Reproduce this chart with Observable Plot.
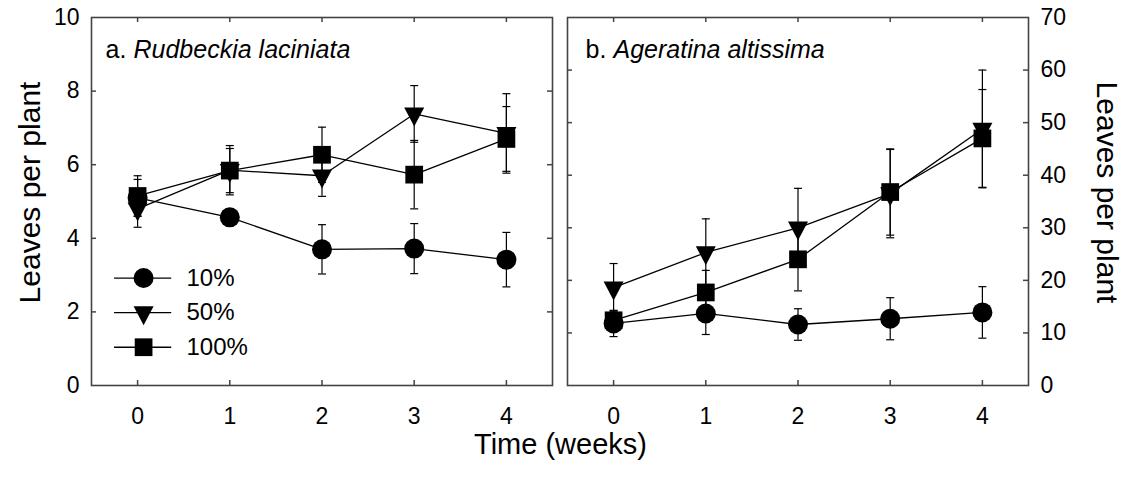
<!DOCTYPE html>
<html>
<head>
<meta charset="utf-8">
<script src="https://cdn.jsdelivr.net/npm/d3@7"></script>
<script src="https://cdn.jsdelivr.net/npm/@observablehq/plot@0.6"></script>
<style>
  body { margin: 0; background: #fff; }
  #chart { position: relative; width: 1126px; height: 478px; font-family: "Liberation Sans", Arial, sans-serif; }
  #chart svg { position: absolute; top: 0; }
</style>
</head>
<body>
<div id="chart"></div>
<script>
// Weeks of sampling and shade treatments
const weeks = [0, 1, 2, 3, 4];
const treatments = ["10%", "50%", "100%"];

// a. Rudbeckia laciniata — mean leaves per plant and error
const rud10 = [5.1, 4.57, 3.7, 3.72, 3.42];
const rud10Err = [0.5, 0.22, 0.67, 0.68, 0.74];
const rud50 = [4.8, 5.85, 5.7, 7.38, 6.85];
const rud50Err = [0.5, 0.67, 0.56, 0.77, 1.08];
const rud100 = [5.15, 5.84, 6.27, 5.73, 6.7];
const rud100Err = [0.55, 0.6, 0.75, 0.93, 0.88];

// b. Ageratina altissima — mean leaves per plant and error
const age10 = [11.8, 13.7, 11.6, 12.7, 13.9];
const age10Err = [2.5, 4.0, 3.0, 4.0, 4.9];
const age50 = [18.6, 25.3, 30.0, 36.5, 48.8];
const age50Err = [4.6, 6.4, 7.5, 8.4, 11.2];
const age100 = [12.4, 17.7, 24.0, 36.8, 47.0];
const age100Err = [1.8, 4.2, 6.0, 8.2, 9.3];

// Axis tick values
const leftTicks = [0, 2, 4, 6, 8, 10];
const rightTicks = [0, 10, 20, 30, 40, 50, 60, 70];

const FONT = '"Liberation Sans", Arial, sans-serif';
const FRAME_W = 461, FRAME_H = 368, TICK = 5;
const INK = "#000", FRAME_INK = "#444";

function buildRows(means, errs) {
  return treatments.flatMap((t, i) =>
    weeks.map((w, j) => ({trt: t, week: w, v: means[i][j], lo: means[i][j] - errs[i][j], hi: means[i][j] + errs[i][j]}))
  );
}

// Marker shapes
const capSymbol = {draw(c) { c.moveTo(-4, 0); c.lineTo(4, 0); }};
const downTriangle = {draw(c) { c.moveTo(-10, -6.3); c.lineTo(10, -6.3); c.lineTo(0, 12.7); c.closePath(); }};
const markerStyle = {
  "10%": {symbol: "circle", r: 10},
  "50%": {symbol: downTriangle},
  "100%": {symbol: "square", r: 10}
};
const seriesDots = (data, opts) =>
  treatments.map(t => Plot.dot(data.filter(d => d.trt === t), {...opts, ...markerStyle[t], fill: INK, stroke: "none"}));

// Inward ticks on all four sides of a panel
function innerTicks(yValues) {
  const inner = yValues.slice(1, -1);
  const tickStyle = {stroke: FRAME_INK, strokeWidth: 1.5};
  return [
    Plot.tickY(inner, {y: d => d, insetRight: FRAME_W - TICK, ...tickStyle}),
    Plot.tickY(inner, {y: d => d, insetLeft: FRAME_W - TICK, ...tickStyle}),
    Plot.tickX(weeks, {x: d => d, insetTop: FRAME_H - TICK, ...tickStyle}),
    Plot.tickX(weeks, {x: d => d, insetBottom: FRAME_H - TICK, ...tickStyle})
  ];
}

function panel({rows, yDomain, yTicks, side, letter, species, width, marginLeft, marginRight, extra = []}) {
  return Plot.plot({
    width, height: 478,
    marginLeft, marginRight, marginTop: 17, marginBottom: 93,
    style: {fontFamily: FONT, fontSize: "23px", color: INK, background: "transparent", overflow: "visible"},
    x: {domain: [-0.5, 4.5]},
    y: {domain: yDomain},
    marks: [
      Plot.axisX(weeks, {tickSize: 0, tickPadding: 22, fontSize: 23, label: null}),
      Plot.axisY(yTicks, {anchor: side, tickSize: 0, tickPadding: 12, fontSize: 23, label: null}),
      ...innerTicks(yTicks),
      Plot.frame({stroke: FRAME_INK, strokeWidth: 1.6}),
      // error bars
      Plot.ruleX(rows, {x: "week", y1: "lo", y2: "hi", stroke: INK, strokeWidth: 1.2}),
      Plot.dot(rows, {x: "week", y: "lo", symbol: capSymbol, stroke: INK, strokeWidth: 1.2, fill: "none"}),
      Plot.dot(rows, {x: "week", y: "hi", symbol: capSymbol, stroke: INK, strokeWidth: 1.2, fill: "none"}),
      // treatment lines and markers
      Plot.line(rows, {x: "week", y: "v", z: "trt", stroke: INK, strokeWidth: 1.3}),
      ...seriesDots(rows, {x: "week", y: "v"}),
      // panel title
      Plot.text([letter], {frameAnchor: "top-left", dx: side === "left" ? 14 : 18, dy: 23, lineAnchor: "top", textAnchor: "start", fontSize: 25}),
      Plot.text([species], {frameAnchor: "top-left", dx: side === "left" ? 42 : 46, dy: 23, lineAnchor: "top", textAnchor: "start", fontSize: 25, fontStyle: "italic"}),
      // y axis title
      Plot.text(["Leaves per plant"], {
        frameAnchor: side, dx: side === "left" ? -61 : 78, dy: -9,
        rotate: side === "left" ? -90 : 90, fontSize: 30, textAnchor: "middle", lineAnchor: "middle"
      }),
      ...extra
    ]
  });
}

// Legend rows inside panel a
const legendRows = treatments.map((t, i) => ({trt: t, y: 2.92 - i * 0.94}));
const legendMarks = [
  Plot.ruleY(legendRows, {y: "y", x1: -0.25, x2: 0.37, stroke: INK, strokeWidth: 1.3}),
  ...seriesDots(legendRows, {x: 0.065, y: "y"}),
  Plot.text(legendRows, {x: 0.53, y: "y", text: "trt", textAnchor: "start", lineAnchor: "middle", fontSize: 24})
];

const rowsA = buildRows([rud10, rud50, rud100], [rud10Err, rud50Err, rud100Err]);
const rowsB = buildRows([age10, age50, age100], [age10Err, age50Err, age100Err]);

const left = panel({
  rows: rowsA, yDomain: [0, 10], yTicks: leftTicks, side: "left",
  letter: "a.", species: "Rudbeckia laciniata",
  width: 560, marginLeft: 91, marginRight: 8,
  extra: [
    ...legendMarks,
    Plot.text(["Time (weeks)"], {frameAnchor: "bottom-right", dx: 8, dy: 59, textAnchor: "middle", lineAnchor: "middle", fontSize: 29})
  ]
});
const right = panel({
  rows: rowsB, yDomain: [0, 70], yTicks: rightTicks, side: "right",
  letter: "b.", species: "Ageratina altissima",
  width: 566, marginLeft: 7, marginRight: 98
});

const chart = document.getElementById("chart");
left.style.left = "0px";
right.style.left = "560px";
chart.append(left, right);
</script>
</body>
</html>
